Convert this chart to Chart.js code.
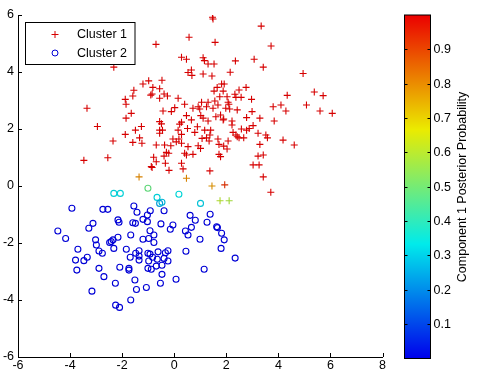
<!DOCTYPE html>
<html>
<head>
<meta charset="utf-8">
<script src="https://cdn.jsdelivr.net/npm/chart.js@4.4.1/dist/chart.umd.min.js"></script>
<style>
  html, body { margin: 0; padding: 0; background: #fff; }
  canvas { display: block; }
</style>
</head>
<body>
<canvas id="c" width="481" height="380"></canvas>
<script>
// Points as [x, y, component-1 posterior probability]
const cluster1 = [
  [0.57,5.22,1],[-0.70,4.97,1],[0.28,4.52,1],[0.47,4.45,1],[1.11,4.50,1],[1.16,4.40,1],[-2.32,4.17,1],[0.53,3.98,1],
  [0.66,4.07,1],[0.68,3.88,1],[1.11,3.93,1],[-1.20,3.58,1],[-0.98,3.69,1],[-0.47,3.71,1],[-0.82,3.46,1],[-0.56,3.41,1],
  [-1.55,3.36,1],[-0.90,3.19,1],[-0.85,3.23,1],[-1.59,3.16,1],[-0.39,3.23,1],[-0.26,3.16,1],[-0.56,3.08,1],[0.15,3.08,1],
  [-1.88,3.04,1],[1.47,5.92,1],[1.49,5.86,1],[3.34,5.61,1],[1.57,5.04,1],[3.72,4.91,1],[1.30,4.28,1],[1.53,4.28,1],
  [2.35,4.39,1],[3.07,4.45,1],[3.42,4.17,1],[1.45,3.86,1],[2.15,3.99,1],[4.95,3.95,1],[1.82,3.58,1],[1.92,3.58,1],
  [1.65,3.46,1],[1.53,3.33,1],[1.88,3.33,1],[2.49,3.37,1],[2.76,3.46,1],[2.33,3.22,1],[2.37,3.11,1],[1.75,3.13,1],
  [2.03,3.13,1],[2.57,3.11,1],[4.34,3.18,1],[5.38,3.30,1],[5.72,3.17,1],[2.97,3.04,1],[-1.85,2.87,1],[-3.35,2.73,1],
  [0.40,2.87,1],[0.72,2.73,1],[0.92,2.78,1],[0.98,2.70,1],[-0.43,2.63,1],[-0.11,2.61,1],[0.02,2.75,1],[-1.65,2.55,1],
  [-1.85,2.38,1],[0.47,2.47,1],[0.66,2.32,1],[1.02,2.47,1],[1.11,2.38,1],[-0.56,2.26,1],[-0.49,2.18,1],[0.28,2.24,1],
  [0.21,2.17,1],[-2.95,2.09,1],[-1.26,2.09,1],[-1.49,1.96,1],[-0.56,1.96,1],[-0.45,1.96,1],[0.15,1.96,1],[0.51,2.02,1],
  [0.89,2.08,1],[-0.56,1.85,1],[-1.88,1.81,1],[0.28,1.81,1],[0.79,1.88,1],[-1.33,1.69,1],[-0.05,1.65,1],[0.18,1.65,1],
  [0.08,1.55,1],[1.07,1.67,1],[-2.35,1.58,1],[-1.59,1.53,1],[-1.24,1.50,1],[-0.69,1.44,1],[-0.37,1.44,1],[-0.13,1.41,1],
  [0.28,1.50,1],[0.53,1.38,1],[0.92,1.41,1],[1.01,1.32,1],[-0.30,1.18,1],[-0.21,1.15,1],[-0.39,1.05,1],[0.40,1.15,1],
  [0.47,1.09,1],[0.72,1.11,1],[-2.55,0.99,1],[-0.79,1.01,1],[-3.47,0.90,1],[-0.69,0.85,1],[-0.34,0.80,1],[0.28,0.80,1],
  [-0.88,0.68,1],[-0.85,0.65,1],[0.34,0.60,1],[-0.20,0.55,1],[-1.35,0.32,0.8],[0.47,0.27,0.8],
  [1.05,2.94,1],[1.30,2.94,1],[1.56,2.98,1],[1.68,2.84,1],[2.07,2.94,1],[2.10,2.87,1],[1.24,2.78,1],[1.49,2.73,1],
  [1.98,2.73,1],[2.13,2.70,1],[2.42,2.67,1],[3.80,2.78,1],[4.10,2.84,1],[2.99,2.61,1],[4.29,2.63,1],[5.08,2.84,1],
  [5.60,2.63,1],[6.07,2.55,1],[1.60,2.43,1],[1.78,2.49,1],[1.88,2.32,1],[1.90,2.35,1],[2.78,2.40,1],[3.29,2.38,1],
  [1.30,2.28,1],[2.22,2.28,1],[2.22,2.14,1],[3.84,2.28,1],[3.03,2.12,1],[1.17,1.96,1],[1.40,1.96,1],[2.58,2.00,1],
  [2.78,1.96,1],[2.88,2.02,1],[2.26,1.88,1],[1.37,1.79,1],[1.24,1.69,1],[1.34,1.58,1],[1.68,1.65,1],[2.07,1.58,1],
  [2.37,1.79,1],[2.42,1.73,1],[2.49,1.69,1],[2.67,1.69,1],[3.22,1.85,1],[3.52,1.79,1],[3.58,1.69,1],[4.18,1.61,1],
  [1.72,1.46,1],[1.90,1.40,1],[2.03,1.30,1],[3.29,1.46,1],[4.61,1.44,1],[1.72,1.11,1],[1.78,1.03,1],[3.22,1.05,1],
  [3.42,1.09,1],[3.03,0.74,1],[3.26,0.74,1],[1.37,0.53,1],[3.42,0.32,1],[1.45,0.00,0.78],[1.94,0.04,0.93],[3.71,-0.22,1],
  [1.76,-0.52,0.6],[2.11,-0.52,0.58]
];

const cluster2 = [
  [-1.01,-0.08,0.48],[-0.66,-0.40,0.32],[0.18,-0.29,0.33],[-0.56,-0.61,0.24],[-0.47,-0.57,0.28],[1.01,-0.61,0.3],
  [-2.32,-0.26,0.32],[-2.07,-0.26,0.32],
  [-0.92,-0.87,0],[-1.03,-1.02,0],[-1.03,-1.25,0],[-0.39,-0.87,0],[0.61,-1.03,0],[1.38,-0.99,0],[0.81,-1.20,0],
  [1.26,-1.27,0],[-0.51,-1.33,0],[-0.05,-1.37,0],[-0.15,-1.52,0],[0.66,-1.45,0],[1.63,-1.43,0],[1.66,-1.46,0],
  [-0.93,-1.57,0],[0.43,-1.58,0],[0.53,-1.72,0],[1.82,-1.66,0],[-0.78,-1.72,0],[-0.98,-1.84,0],[-0.78,-1.98,0],
  [0.99,-1.87,0],[1.92,-1.89,0],[1.80,-2.19,0],[-0.62,-2.31,0],[-0.34,-2.34,0],[-0.24,-2.27,0],[-1.01,-2.36,0],
  [-0.93,-2.39,0],[-0.83,-2.50,0],[-0.98,-2.63,0],[-0.65,-2.57,0],[-0.39,-2.54,0],[-0.24,-2.63,0],[0.45,-2.29,0],
  [2.34,-2.53,0],[-0.47,-2.78,0],[-0.69,-2.81,0],[-1.01,-2.89,0],[-0.88,-2.92,0],[1.15,-2.92,0],[-0.47,-3.10,0],
  [0.07,-3.27,0],[-0.53,-3.41,0],[-1.07,-3.56,0],
  [-3.93,-0.78,0],[-2.74,-0.82,0],[-2.55,-0.82,0],[-1.55,-0.70,0],[-1.43,-0.92,0],[-1.20,-1.17,0],[-2.16,-1.19,0],
  [-2.12,-1.27,0],[-3.12,-1.31,0],[-3.28,-1.48,0],[-1.59,-1.29,0],[-1.49,-1.31,0],[-4.47,-1.58,0],[-1.67,-1.72,0],
  [-4.17,-1.84,0],[-3.02,-1.89,0],[-2.99,-2.07,0],[-2.16,-1.80,0],[-2.48,-1.98,0],[-2.42,-1.95,0],[-2.35,-1.89,0],
  [-1.20,-1.87,0],[-3.70,-2.22,0],[-2.89,-2.28,0],[-2.76,-2.36,0],[-2.32,-2.19,0],[-1.84,-2.22,0],[-1.35,-2.27,0],
  [-1.48,-2.36,0],[-1.35,-2.46,0],[-1.35,-2.60,0],[-3.34,-2.50,0],[-3.47,-2.62,0],[-3.79,-2.60,0],[-1.69,-2.50,0],
  [-2.89,-2.89,0],[-2.09,-2.85,0],[-1.74,-2.89,0],[-1.74,-2.95,0],[-3.74,-2.95,0],[-2.70,-3.18,0],[-1.51,-3.30,0],
  [-2.26,-3.41,0],[-1.45,-3.63,0],[-3.16,-3.69,0],[-1.67,-4.00,0],[-2.25,-4.18,0],[-2.10,-4.26,0]
];

const seriesLabels = ['Cluster 1', 'Cluster 2'];
const xTickRange = [-6, 8];
const yTickRange = [-6, 6];
const colorbarTicks = [0.1, 0.2, 0.3, 0.4, 0.5, 0.6, 0.7, 0.8, 0.9];
const colorbarLabel = 'Component 1 Posterior Probability';

const FONT = "'Liberation Sans', Arial, sans-serif";

// jet-like colormap: blue -> cyan -> yellow -> red
function jetRGB(t) {
    let r, g, b;
    if (t < 1 / 3) { r = 0; g = 3 * t; b = 1; }
    else if (t < 2 / 3) { const s = 3 * t - 1; r = s; g = 1; b = 1 - s; }
    else { const s = 3 * t - 2; r = 1; g = 1 - s; b = 0; }
    return [r * 255, g * 255, b * 255];
}
function jet(t, k) {
    const c = jetRGB(t).map(v => Math.round(v * (k || 1)));
    return 'rgb(' + c.join(',') + ')';
}
// markers a touch darker, thin lines look washed out otherwise
const markerColor = t => jet(t, 0.84);

const inwardTicks = {
    id: 'inwardTicks',
    afterDraw(chart) {
        const { ctx, chartArea: a, scales: { x, y } } = chart;
        ctx.save();
        ctx.strokeStyle = '#000';
        ctx.lineWidth = 1;
        ctx.beginPath();
        x.ticks.forEach(t => {
            const px = Math.round(x.getPixelForValue(t.value)) + 0.5;
            ctx.moveTo(px, a.bottom);
            ctx.lineTo(px, a.bottom - 4);
        });
        y.ticks.forEach(t => {
            const py = Math.round(y.getPixelForValue(t.value)) + 0.5;
            ctx.moveTo(a.left, py);
            ctx.lineTo(a.left + 4, py);
        });
        ctx.stroke();
        ctx.restore();
    }
};

const boxLegend = {
    id: 'boxLegend',
    afterDraw(chart) {
        const ctx = chart.ctx;
        ctx.save();
        ctx.fillStyle = '#fff';
        ctx.fillRect(25.5, 22.5, 109.5, 42);
        ctx.strokeStyle = '#000';
        ctx.lineWidth = 1;
        ctx.strokeRect(25.5, 22.5, 109.5, 42);
        // + marker
        ctx.strokeStyle = markerColor(1);
        ctx.beginPath();
        ctx.moveTo(51.5, 34.5); ctx.lineTo(58.5, 34.5);
        ctx.moveTo(55, 31); ctx.lineTo(55, 38);
        ctx.stroke();
        // o marker
        ctx.strokeStyle = markerColor(0);
        ctx.beginPath();
        ctx.arc(55, 53, 3, 0, Math.PI * 2);
        ctx.stroke();
        ctx.fillStyle = '#000';
        ctx.font = '12.5px ' + FONT;
        ctx.textBaseline = 'middle';
        ctx.textAlign = 'left';
        ctx.fillText(seriesLabels[0], 77, 34.5);
        ctx.fillText(seriesLabels[1], 77, 53.5);
        ctx.restore();
    }
};

const colorbar = {
    id: 'colorbar',
    afterDraw(chart) {
        const ctx = chart.ctx;
        const left = 404.5, right = 430.5, top = 15, bottom = 358.5;
        const h = bottom - top;
        ctx.save();
        const grad = ctx.createLinearGradient(0, bottom, 0, top);
        for (let i = 0; i <= 30; i++) grad.addColorStop(i / 30, jet(i / 30, 0.92));
        ctx.fillStyle = grad;
        ctx.fillRect(left, top, right - left, h);
        ctx.strokeStyle = '#000';
        ctx.lineWidth = 1;
        ctx.strokeRect(left, top, right - left, h);
        ctx.beginPath();
        colorbarTicks.forEach(v => {
            const py = Math.round(bottom - v * h) + 0.5;
            ctx.moveTo(left, py); ctx.lineTo(left + 3, py);
            ctx.moveTo(right, py); ctx.lineTo(right - 3, py);
        });
        ctx.stroke();
        ctx.fillStyle = '#000';
        ctx.font = '12.5px ' + FONT;
        ctx.textAlign = 'left';
        ctx.textBaseline = 'middle';
        colorbarTicks.forEach(v => {
            ctx.fillText(String(v), right + 3, Math.round(bottom - v * h) + 0.5);
        });
        ctx.translate(463, 187);
        ctx.rotate(-Math.PI / 2);
        ctx.textAlign = 'center';
        ctx.fillText(colorbarLabel, 0, 0);
        ctx.restore();
    }
};

new Chart(document.getElementById('c'), {
    type: 'scatter',
    data: {
        datasets: [{
            label: seriesLabels[0],
            data: cluster1.map(p => ({ x: p[0], y: p[1] })),
            pointStyle: 'cross',
            pointRadius: 3.5,
            pointBorderWidth: 1.1,
            pointBorderColor: cluster1.map(p => markerColor(p[2])),
            pointBackgroundColor: 'transparent'
        }, {
            label: seriesLabels[1],
            data: cluster2.map(p => ({ x: p[0], y: p[1] })),
            pointStyle: 'circle',
            pointRadius: 3,
            pointBorderWidth: 1.1,
            pointBorderColor: cluster2.map(p => markerColor(p[2])),
            pointBackgroundColor: 'transparent'
        }]
    },
    options: {
        responsive: false,
        animation: false,
        layout: { padding: { top: 15, right: 98.5, left: 0, bottom: 0 } },
        plugins: { legend: { display: false }, tooltip: { enabled: false } },
        scales: {
            x: {
                type: 'linear', min: xTickRange[0], max: xTickRange[1],
                ticks: { stepSize: 2, color: '#000', font: { family: FONT, size: 12.5 }, padding: 1, maxRotation: 0 },
                grid: { display: false, drawTicks: false },
                border: { display: true, color: '#000', width: 1 },
                afterFit(s) { s.height = 23; }
            },
            y: {
                type: 'linear', min: yTickRange[0], max: yTickRange[1],
                ticks: { stepSize: 2, color: '#000', font: { family: FONT, size: 12.5 }, padding: 4 },
                grid: { display: false, drawTicks: false },
                border: { display: true, color: '#000', width: 1 },
                afterFit(s) { s.width = 18; }
            }
        }
    },
    plugins: [inwardTicks, boxLegend, colorbar]
});
</script>
</body>
</html>
